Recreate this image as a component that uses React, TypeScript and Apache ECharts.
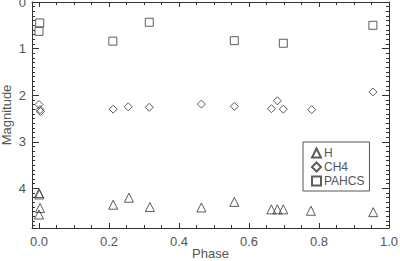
import React, { useEffect, useRef } from "react";
import * as echarts from "echarts";

const hPhase = [0.0, 0.001, 0.003, 0.0, 0.212, 0.257, 0.317, 0.464, 0.558, 0.664, 0.681, 0.698, 0.777, 0.955];
const hMag = [4.1, 4.13, 4.42, 4.56, 4.35, 4.2, 4.4, 4.41, 4.29, 4.45, 4.45, 4.45, 4.48, 4.51];

const ch4Phase = [0.0, 0.003, 0.004, 0.212, 0.255, 0.315, 0.464, 0.558, 0.664, 0.681, 0.698, 0.779, 0.954];
const ch4Mag = [2.2, 2.31, 2.35, 2.3, 2.25, 2.26, 2.19, 2.24, 2.29, 2.12, 2.3, 2.31, 1.93];

const pahPhase = [0.002, 0.0, 0.211, 0.315, 0.558, 0.698, 0.954];
const pahMag = [0.45, 0.63, 0.84, 0.435, 0.83, 0.885, 0.5];

const xMajor = [0, 0.2, 0.4, 0.6, 0.8, 1.0];
const xMinor = [0.05, 0.1, 0.15, 0.25, 0.3, 0.35, 0.45, 0.5, 0.55, 0.65, 0.7, 0.75, 0.85, 0.9, 0.95];
const yMajor = [0, 1, 2, 3, 4];
const yMinor = [
  0.1, 0.2, 0.3, 0.4, 0.5, 0.6, 0.7, 0.8, 0.9,
  1.1, 1.2, 1.3, 1.4, 1.5, 1.6, 1.7, 1.8, 1.9,
  2.1, 2.2, 2.3, 2.4, 2.5, 2.6, 2.7, 2.8, 2.9,
  3.1, 3.2, 3.3, 3.4, 3.5, 3.6, 3.7, 3.8, 3.9,
  4.1, 4.2, 4.3, 4.4, 4.5, 4.6, 4.7, 4.8,
];

const X_MIN = -0.02;
const X_MAX = 1.0;
const Y_MIN = 0;
const Y_MAX = 4.85;

const FONT = "'Liberation Sans', Arial, sans-serif";
const AXIS_COLOR = "#333";
const LABEL_COLOR = "#555";
const MARK_COLOR = "#333";

export default function App() {
  const ref = useRef<HTMLDivElement>(null);

  useEffect(() => {
    if (!ref.current) return;
    const chart = echarts.init(ref.current, undefined, { renderer: "svg" });

    const gridRect = { left: 32, right: 11, top: 2, bottom: 33, containLabel: false, outerBoundsMode: "none" };

    const xBase = (gridIndex: number, position: string, vals: number[], len: number, showLabel: boolean, showLine: boolean, extra: any = {}) => ({
      type: "value",
      gridIndex,
      position,
      min: X_MIN,
      max: X_MAX,
      splitLine: { show: false },
      axisLine: { show: showLine, onZero: false, lineStyle: { color: AXIS_COLOR, width: 1 } },
      axisTick: { show: true, inside: true, length: len, customValues: vals, lineStyle: { color: AXIS_COLOR, width: 1 } },
      axisLabel: showLabel
        ? {
            show: true,
            customValues: vals,
            formatter: (v: number) => v.toFixed(1),
            color: LABEL_COLOR,
            fontFamily: FONT,
            fontSize: 13,
            margin: 7,
          }
        : { show: false },
      ...extra,
    });

    const yBase = (gridIndex: number, position: string, vals: number[], len: number, showLabel: boolean, showLine: boolean, extra: any = {}) => ({
      type: "value",
      gridIndex,
      position,
      min: Y_MIN,
      max: Y_MAX,
      inverse: true,
      splitLine: { show: false },
      axisLine: { show: showLine, onZero: false, lineStyle: { color: AXIS_COLOR, width: 1 } },
      axisTick: { show: true, inside: true, length: len, customValues: vals, lineStyle: { color: AXIS_COLOR, width: 1 } },
      axisLabel: showLabel
        ? {
            show: true,
            customValues: vals,
            formatter: (v: number) => String(v),
            color: LABEL_COLOR,
            fontFamily: FONT,
            fontSize: 13,
            margin: 6,
          }
        : { show: false },
      ...extra,
    });

    const markerStyle = { color: "transparent", borderColor: MARK_COLOR, borderWidth: 1 };

    chart.setOption({
      animation: false,
      backgroundColor: "#fff",
      grid: [
        { ...gridRect },
        { ...gridRect },
      ],
      xAxis: [
        xBase(0, "bottom", xMajor, 5, true, true, {
          name: "Phase",
          nameLocation: "middle",
          nameGap: 19,
          nameMoveOverlap: false,
          nameTextStyle: { color: LABEL_COLOR, fontFamily: FONT, fontSize: 13 },
        }),
        xBase(0, "top", xMajor, 5, false, true),
        xBase(1, "bottom", xMinor, 3, false, false),
        xBase(1, "top", xMinor, 3, false, false),
      ],
      yAxis: [
        yBase(0, "left", yMajor, 7, true, true, {
          name: "Magnitude",
          nameLocation: "middle",
          nameRotate: 90,
          nameGap: 19,
          nameMoveOverlap: false,
          nameTextStyle: { color: LABEL_COLOR, fontFamily: FONT, fontSize: 13 },
        }),
        yBase(0, "right", yMajor, 7, false, true),
        yBase(1, "left", yMinor, 3, false, false),
        yBase(1, "right", yMinor, 3, false, false),
      ],
      legend: {
        orient: "vertical",
        left: 303,
        top: 142,
        padding: [5, 5, 4, 8],
        itemGap: 2,
        itemWidth: 9,
        itemHeight: 9,
        borderColor: "#555",
        borderWidth: 1,
        backgroundColor: "#fff",
        textStyle: { color: LABEL_COLOR, fontFamily: FONT, fontSize: 12, padding: [0, 0, 0, -2] },
        data: [
          { name: "H", icon: "triangle" },
          { name: "CH4", icon: "diamond" },
          { name: "PAHCS", icon: "rect" },
        ],
      },
      series: [
        {
          name: "H",
          type: "scatter",
          xAxisIndex: 0,
          yAxisIndex: 0,
          symbol: "triangle",
          symbolSize: 9,
          itemStyle: markerStyle,
          data: hPhase.map((p, i) => [p, hMag[i]]),
        },
        {
          name: "CH4",
          type: "scatter",
          xAxisIndex: 0,
          yAxisIndex: 0,
          symbol: "diamond",
          symbolSize: 8,
          itemStyle: markerStyle,
          data: ch4Phase.map((p, i) => [p, ch4Mag[i]]),
        },
        {
          name: "PAHCS",
          type: "scatter",
          xAxisIndex: 0,
          yAxisIndex: 0,
          symbol: "rect",
          symbolSize: 8,
          itemStyle: markerStyle,
          data: pahPhase.map((p, i) => [p, pahMag[i]]),
        },
      ],
    });

    return () => chart.dispose();
  }, []);

  return (
    <div
      ref={ref}
      style={{ position: "absolute", left: 0, top: 0, width: 400, height: 261 }}
    />
  );
}
